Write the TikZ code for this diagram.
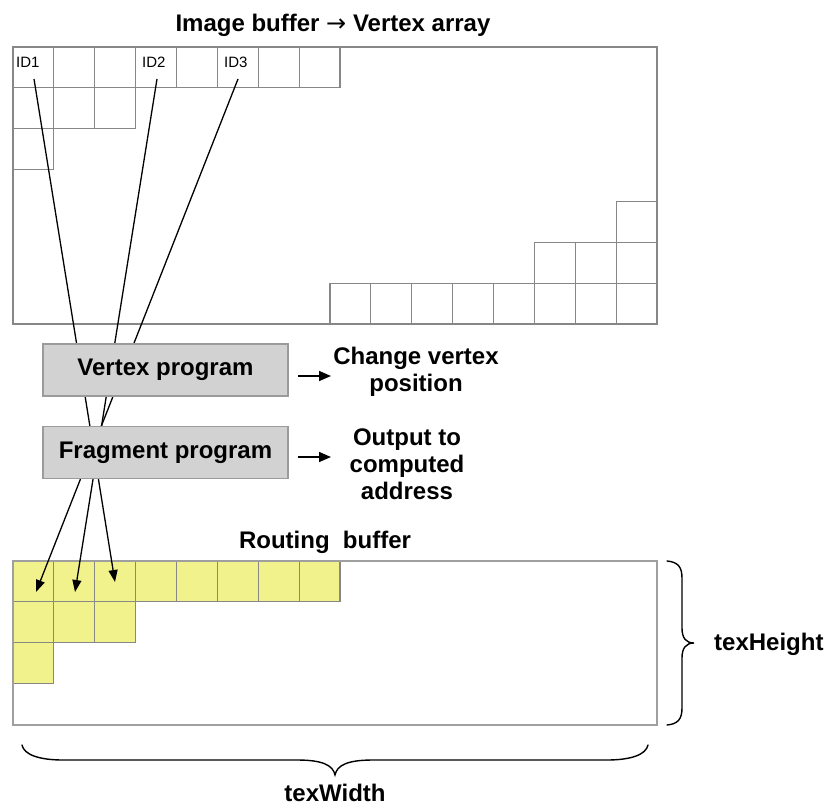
\documentclass[tikz,border=0pt]{standalone}
\usepackage{fontspec}
\setmainfont{Liberation Sans}
\newfontfamily\arrowfont{DejaVu Sans}
\usetikzlibrary{arrows.meta}
\definecolor{gridgray}{RGB}{135,135,135}
\definecolor{cellyellow}{RGB}{242,242,140}
\definecolor{boxfill}{RGB}{210,210,210}
\definecolor{boxline}{RGB}{155,155,155}
\tikzset{
  lbl/.style={font=\bfseries\fontsize{24}{27}\selectfont, inner sep=0pt, align=center},
  idlbl/.style={font=\fontsize{15}{17}\selectfont, inner sep=0pt, anchor=base west},
  gridline/.style={draw=gridgray, line width=1.1pt},
  ycell/.style={draw=gridgray, fill=cellyellow, line width=1.1pt},
  pbox/.style={lbl, draw=boxline, fill=boxfill, line width=1.2pt, minimum width=245pt, minimum height=52pt},
  conn/.style={-{Triangle[length=12pt,width=9pt]}, line width=1.3pt},
  sidearrow/.style={-{Triangle[length=12pt,width=10pt]}, line width=1.6pt},
  bracepath/.style={line width=1.4pt, line cap=round}
}
\begin{document}
\begin{tikzpicture}[x=1pt,y=-1pt]
\useasboundingbox (0,0) rectangle (830,808);
\def\w{40.875}
% ---------- top buffer ----------
\node[lbl, anchor=base] (title) at (333,32) {Image buffer {\arrowfont\mdseries →} Vertex array};
\foreach \i in {0,...,7} \draw[gridline] (13+\i*\w,47) rectangle ++(\w,\w);
\foreach \i in {0,...,2} \draw[gridline] (13+\i*\w,47+\w) rectangle ++(\w,\w);
\draw[gridline] (13,47+2*\w) rectangle ++(\w,\w);
\foreach \i in {0,...,7} \draw[gridline] (330+\i*\w,324-\w) rectangle ++(\w,\w);
\foreach \i in {0,...,2} \draw[gridline] (534.4+\i*\w,324-2*\w) rectangle ++(\w,\w);
\draw[gridline] (616.1,324-3*\w) rectangle ++(\w,\w);
\draw[gridline] (13,47) rectangle (657,324);
\node[idlbl] (id1) at (16,68) {ID1};
\node[idlbl] (id2) at (142,68) {ID2};
\node[idlbl] (id3) at (224,68) {ID3};
% ---------- routing buffer ----------
\node[lbl, anchor=base] (rb) at (325,548) {Routing\ \ buffer};
\foreach \i in {0,...,7} \draw[ycell] (13+\i*\w,561) rectangle ++(\w,\w);
\foreach \i in {0,...,2} \draw[ycell] (13+\i*\w,561+\w) rectangle ++(\w,\w);
\draw[ycell] (13,561+2*\w) rectangle ++(\w,\w);
\draw[gridline, draw=gridgray!80] (13,561) rectangle (657,725);
% ---------- connectors ----------
\coordinate (s1) at (34,79);
\coordinate (s2) at (157,79);
\coordinate (s3) at (238,79);
\coordinate (t1) at (115,582);
\coordinate (t2) at (75,592);
\coordinate (t3) at (36,592);
\draw[conn] (s1) -- (t1);
\draw[conn] (s2) -- (t2);
\draw[conn] (s3) -- (t3);
% ---------- program boxes ----------
\node[pbox] (vp) at (165.5,370) {Vertex program};
\node[pbox] (fp) at (165.5,452.5) {Fragment program};
\coordinate (a1s) at (298,376);
\coordinate (a1e) at (331,376);
\coordinate (a2s) at (298,457);
\coordinate (a2e) at (331,457);
\draw[sidearrow] (a1s) -- (a1e);
\draw[sidearrow] (a2s) -- (a2e);
\node[lbl, anchor=north] (cv) at (416,347) {Change vertex\\position};
\node[lbl, anchor=north] (oc) at (407,429) {Output to\\computed\\address};
% ---------- braces ----------
\draw[bracepath] (667,561) .. controls (678,562) and (682,567) .. (682,578)
  -- (682,628) .. controls (682,638) and (686,643) .. (694,643)
  .. controls (686,643) and (682,648) .. (682,658)
  -- (682,708) .. controls (682,719) and (678,724) .. (667,725);
\node[lbl, anchor=base west] (th) at (714,650) {texHeight};
\draw[bracepath] (22,745) .. controls (24,755) and (40,760) .. (63,760)
  -- (297,760) .. controls (322,760) and (333,765) .. (335,775)
  .. controls (337,765) and (348,760) .. (373,760)
  -- (607,760) .. controls (630,760) and (646,755) .. (648,745);
\node[lbl, anchor=base] (tw) at (335,801) {texWidth};
\end{tikzpicture}
\end{document}
